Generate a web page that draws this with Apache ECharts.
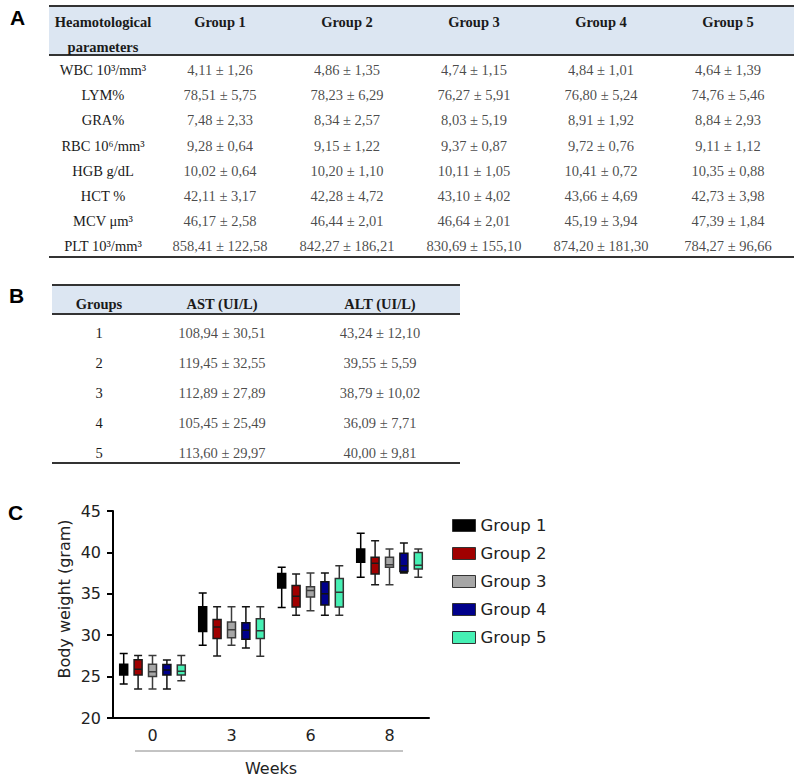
<!DOCTYPE html>
<html><head><meta charset="utf-8">
<script src="https://cdn.jsdelivr.net/npm/echarts@6/dist/echarts.min.js"></script>
<style>html,body{margin:0;padding:0;background:#fff}#c{width:800px;height:780px}</style>
</head><body><div id="c"></div>
<script>
// ---------- Panel A: haematological parameters ----------
const paramLabels = ['WBC 10³/mm³', 'LYM%', 'GRA%', 'RBC 10⁶/mm³', 'HGB g/dL', 'HCT %', 'MCV μm³', 'PLT 10³/mm³'];
const groupNames = ['Group 1', 'Group 2', 'Group 3', 'Group 4', 'Group 5'];
const g1Mean = [4.11, 78.51, 7.48, 9.28, 10.02, 42.11, 46.17, 858.41];
const g1Sd   = [1.26, 5.75, 2.33, 0.64, 0.64, 3.17, 2.58, 122.58];
const g2Mean = [4.86, 78.23, 8.34, 9.15, 10.20, 42.28, 46.44, 842.27];
const g2Sd   = [1.35, 6.29, 2.57, 1.22, 1.10, 4.72, 2.01, 186.21];
const g3Mean = [4.74, 76.27, 8.03, 9.37, 10.11, 43.10, 46.64, 830.69];
const g3Sd   = [1.15, 5.91, 5.19, 0.87, 1.05, 4.02, 2.01, 155.10];
const g4Mean = [4.84, 76.80, 8.91, 9.72, 10.41, 43.66, 45.19, 874.20];
const g4Sd   = [1.01, 5.24, 1.92, 0.76, 0.72, 4.69, 3.94, 181.30];
const g5Mean = [4.64, 74.76, 8.84, 9.11, 10.35, 42.73, 47.39, 784.27];
const g5Sd   = [1.39, 5.46, 2.93, 1.12, 0.88, 3.98, 1.84, 96.66];

// ---------- Panel B: liver enzymes ----------
const enzymeCols = ['AST (UI/L)', 'ALT (UI/L)'];
const groupIds = ['1', '2', '3', '4', '5'];
const astMean = [108.94, 119.45, 112.89, 105.45, 113.60];
const astSd   = [30.51, 32.55, 27.89, 25.49, 29.97];
const altMean = [43.24, 39.55, 38.79, 36.09, 40.00];
const altSd   = [12.10, 5.59, 10.02, 7.71, 9.81];

// ---------- Panel C: body weight box plots [min, Q1, median, Q3, max] ----------
const weekLabels = ['0', '3', '6', '8'];
const group1Box = [[24.1, 25.2, 25.8, 26.5, 27.8], [28.8, 30.45, 31.8, 33.45, 35.1], [33.35, 35.7, 36.6, 37.45, 38.2], [37.0, 38.8, 39.6, 40.4, 42.3]];
const group2Box = [[23.5, 25.2, 25.9, 27.05, 27.55], [27.5, 29.6, 31.0, 31.9, 33.45], [32.4, 33.4, 34.7, 36.0, 37.4], [36.1, 37.4, 38.7, 39.4, 41.4]];
const group3Box = [[23.5, 25.0, 25.6, 26.5, 27.55], [28.8, 29.7, 30.65, 31.6, 33.45], [32.95, 34.6, 35.4, 35.85, 37.5], [36.1, 38.2, 38.5, 39.4, 40.4]];
const group4Box = [[23.5, 25.2, 25.8, 26.45, 27.0], [28.45, 29.5, 30.6, 31.5, 33.45], [32.4, 33.65, 35.0, 36.45, 37.5], [37.5, 37.7, 38.4, 39.9, 41.15]];
const group5Box = [[24.5, 25.2, 25.65, 26.4, 27.55], [27.45, 29.6, 30.55, 32.0, 33.45], [32.4, 33.4, 35.2, 36.85, 38.4], [37.0, 38.0, 38.45, 40.0, 40.4]];

// ---------- styles ----------
const boxFill = ['#000000', '#a00000', '#a6a6a6', '#00008b', '#46f0b4'];
const boxBorder = ['#000000', '#1a1a1a', '#3c3c3c', '#111111', '#333333'];
const boxOffsets = [-28.8, -14.4, 0, 14.4, 28.8];
const SERIF = '"Liberation Serif", "Times New Roman", serif';
const SANS = '"DejaVu Sans", Verdana, sans-serif';
const TXT = '#1a1a1a';

const fmt = v => v.toFixed(2).replace('.', ',');

const tableAMeans = [g1Mean, g2Mean, g3Mean, g4Mean, g5Mean];
const tableASds = [g1Sd, g2Sd, g3Sd, g4Sd, g5Sd];
const tableAData = [];
tableAMeans.forEach((m, gi) => m.forEach((v, ri) => tableAData.push([gi, ri, v, tableASds[gi][ri]])));
const tableBData = [];
astMean.forEach((v, ri) => tableBData.push([0, ri, v, astSd[ri]]));
altMean.forEach((v, ri) => tableBData.push([1, ri, v, altSd[ri]]));

const boxGroups = [group1Box, group2Box, group3Box, group4Box, group5Box];

const chart = echarts.init(document.getElementById('c'), null, { renderer: 'svg' });

const BOX_LEFT = 113, BOX_W = 316, BOX_TOP = 511, BOX_H = 207;

const grids = [
  { left: 156.5, top: 57.4, width: 635, height: 201.6 },   // table A
  { left: 143, top: 317.7, width: 316, height: 150 },      // table B
  { left: BOX_LEFT, top: BOX_TOP, width: BOX_W, height: BOX_H } // visible box axes
];
boxOffsets.forEach(o => grids.push({ left: BOX_LEFT + o, top: BOX_TOP, width: BOX_W, height: BOX_H }));

const xAxes = [
  { gridIndex: 0, type: 'category', data: groupNames, position: 'top',
    axisLine: { show: false }, axisTick: { show: false },
    axisLabel: { margin: 35.4, verticalAlign: 'middle', fontFamily: SERIF, fontWeight: 'bold', fontSize: 14.5, color: TXT } },
  { gridIndex: 1, type: 'category', data: enzymeCols, position: 'top',
    axisLine: { show: false }, axisTick: { show: false },
    axisLabel: { margin: 13.7, verticalAlign: 'middle', fontFamily: SERIF, fontWeight: 'bold', fontSize: 14.5, color: TXT } },
  { gridIndex: 2, type: 'category', data: weekLabels,
    axisLine: { lineStyle: { color: '#000', width: 2 } },
    axisTick: { alignWithLabel: true, length: 6, lineStyle: { color: '#000', width: 2 } },
    axisLabel: { margin: 9, fontFamily: SANS, fontSize: 16, color: '#222' },
    name: 'Weeks', nameLocation: 'middle', nameGap: 42,
    nameTextStyle: { fontFamily: SANS, fontSize: 16, color: '#222' } }
];
const yAxes = [
  { gridIndex: 0, type: 'category', data: paramLabels, inverse: true, offset: 53.5,
    axisLine: { show: false }, axisTick: { show: false },
    axisLabel: { margin: 0, align: 'center', fontFamily: SERIF, fontSize: 14.5, color: TXT },
    name: 'Heamotological\nparameters', nameLocation: 'start', nameGap: 22.9,
    nameTextStyle: { align: 'center', verticalAlign: 'middle', lineHeight: 25, fontFamily: SERIF, fontWeight: 'bold', fontSize: 14.5, color: TXT } },
  { gridIndex: 1, type: 'category', data: groupIds, inverse: true, offset: 44,
    axisLine: { show: false }, axisTick: { show: false },
    axisLabel: { margin: 0, align: 'center', fontFamily: SERIF, fontSize: 14.5, color: TXT },
    name: 'Groups', nameLocation: 'start', nameGap: 13.7,
    nameTextStyle: { align: 'center', verticalAlign: 'middle', fontFamily: SERIF, fontWeight: 'bold', fontSize: 14.5, color: TXT } },
  { gridIndex: 2, type: 'value', min: 20, max: 45, interval: 5,
    axisLine: { show: true, lineStyle: { color: '#000', width: 2 } },
    axisTick: { show: true, length: 6, lineStyle: { color: '#000', width: 2 } },
    splitLine: { show: false },
    axisLabel: { margin: 12, fontFamily: SANS, fontSize: 16, color: '#222' },
    name: 'Body weight (gram)', nameLocation: 'middle', nameGap: 41,
    nameTextStyle: { fontFamily: SANS, fontSize: 16, color: '#222', padding: [0, 0, 0, 31] } }
];
boxOffsets.forEach((o, i) => {
  xAxes.push({ gridIndex: 3 + i, type: 'category', data: weekLabels, show: false });
  yAxes.push({ gridIndex: 3 + i, type: 'value', min: 20, max: 45, interval: 5, show: false, splitLine: { show: false } });
});

const valueLabel = {
  show: true, position: 'inside', fontFamily: SERIF, fontSize: 14.5, color: TXT,
  formatter: p => fmt(p.value[2]) + ' ± ' + fmt(p.value[3])
};

const series = [
  { type: 'scatter', xAxisIndex: 0, yAxisIndex: 0, data: tableAData, symbolSize: 1,
    itemStyle: { color: 'rgba(0,0,0,0)' }, label: valueLabel, silent: true },
  { type: 'scatter', xAxisIndex: 1, yAxisIndex: 1, data: tableBData, symbolSize: 1,
    itemStyle: { color: 'rgba(0,0,0,0)' }, label: valueLabel, silent: true }
];
boxGroups.forEach((d, i) => {
  series.push({
    type: 'boxplot', name: groupNames[i], xAxisIndex: 3 + i, yAxisIndex: 3 + i,
    data: d, boxWidth: [8, 8],
    itemStyle: { color: boxFill[i], borderColor: boxBorder[i], borderWidth: 1.5 },
    emphasis: { disabled: true }, silent: true
  });
});

const lineCol = '#333';
const graphic = [
  // table A rules & header band
  { type: 'rect', z: -10, shape: { x: 49, y: 6, width: 745, height: 49 }, style: { fill: '#dce6f2' } },
  { type: 'line', shape: { x1: 49, y1: 6, x2: 794, y2: 6 }, style: { stroke: lineCol, lineWidth: 2 } },
  { type: 'line', shape: { x1: 49, y1: 55, x2: 794, y2: 55 }, style: { stroke: lineCol, lineWidth: 2 } },
  { type: 'line', shape: { x1: 49, y1: 257, x2: 794, y2: 257 }, style: { stroke: lineCol, lineWidth: 2 } },
  // table B rules & header band
  { type: 'rect', z: -10, shape: { x: 52, y: 285, width: 408, height: 29 }, style: { fill: '#dce6f2' } },
  { type: 'line', shape: { x1: 52, y1: 285, x2: 460, y2: 285 }, style: { stroke: lineCol, lineWidth: 2 } },
  { type: 'line', shape: { x1: 52, y1: 314, x2: 460, y2: 314 }, style: { stroke: lineCol, lineWidth: 2 } },
  { type: 'line', shape: { x1: 52, y1: 463, x2: 460, y2: 463 }, style: { stroke: lineCol, lineWidth: 2 } },
  // weeks bracket line
  { type: 'line', shape: { x1: 135, y1: 751, x2: 403, y2: 751 }, style: { stroke: '#888', lineWidth: 1 } },
  // panel letters
  { type: 'text', x: 10, y: 17, style: { text: 'A', fill: '#000', font: 'bold 21px "Liberation Sans", Arial, sans-serif', textVerticalAlign: 'middle', verticalAlign: 'middle' } },
  { type: 'text', x: 9, y: 295, style: { text: 'B', fill: '#000', font: 'bold 21px "Liberation Sans", Arial, sans-serif', textVerticalAlign: 'middle', verticalAlign: 'middle' } },
  { type: 'text', x: 8, y: 512, style: { text: 'C', fill: '#000', font: 'bold 21px "Liberation Sans", Arial, sans-serif', textVerticalAlign: 'middle', verticalAlign: 'middle' } }
];

chart.setOption({
  animation: false,
  backgroundColor: '#fff',
  grid: grids,
  xAxis: xAxes,
  yAxis: yAxes,
  legend: {
    orient: 'vertical', left: 447, top: 512, itemGap: 11, itemWidth: 23, itemHeight: 12,
    icon: 'rect', selectedMode: false,
    textStyle: { fontFamily: SANS, fontSize: 16.5, lineHeight: 16, color: '#222' },
    data: groupNames.map((n, i) => ({ name: n, itemStyle: { color: boxFill[i], borderColor: '#333', borderWidth: 1 } }))
  },
  series: series,
  graphic: graphic
});
</script>
</body></html>
